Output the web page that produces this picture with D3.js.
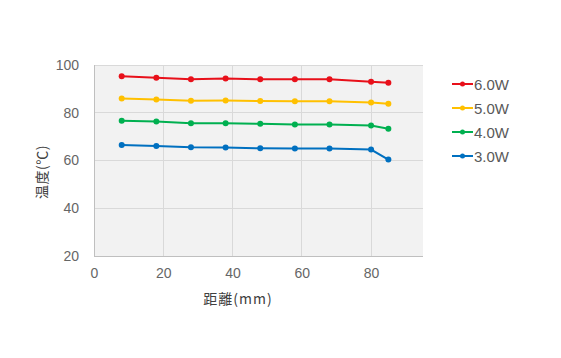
<!DOCTYPE html>
<html><head><meta charset="utf-8">
<script src="https://cdn.jsdelivr.net/npm/d3@7"></script>
<style>body{margin:0;background:#fff}</style>
</head><body>
<script>
const distances = [8, 18, 28, 38, 48, 58, 68, 80, 85];
const seriesNames = ["6.0W", "5.0W", "4.0W", "3.0W"];
const series6W = [95.3, 94.7, 94.0, 94.3, 94.0, 94.0, 94.0, 93.0, 92.6];
const series5W = [86.0, 85.6, 85.0, 85.1, 84.9, 84.8, 84.8, 84.3, 83.8];
const series4W = [76.6, 76.3, 75.6, 75.6, 75.4, 75.1, 75.1, 74.7, 73.3];
const series3W = [66.5, 66.1, 65.5, 65.4, 65.1, 65.0, 65.0, 64.6, 60.4];
const colors = ["#e8101a", "#ffc000", "#00b050", "#0070c0"];
const xTicks = [0, 20, 40, 60, 80];
const yTicks = [20, 40, 60, 80, 100];
const xTitle = "距離(mm)";
const yTitle = "温度(℃)";

const allSeries = [series6W, series5W, series4W, series3W];
const W = 561, H = 358;
const m = {left: 94, top: 65, right: 139, bottom: 102};
const pw = 423 - 94, ph = 256 - 65;
const svg = d3.select("body").append("svg").attr("width", W).attr("height", H)
  .style("font-family", "'Noto Sans CJK JP', 'Noto Sans', sans-serif");
const x = d3.scaleLinear().domain([0, 95]).range([m.left, m.left + pw]);
const y = d3.scaleLinear().domain([20, 100]).range([m.top + ph, m.top]);

svg.append("rect").attr("x", m.left).attr("y", m.top).attr("width", pw).attr("height", ph).attr("fill", "#f2f2f2");

// grid
svg.append("g").selectAll("line").data(yTicks.slice(1)).join("line")
  .attr("x1", m.left).attr("x2", m.left + pw).attr("y1", d => y(d)).attr("y2", d => y(d))
  .attr("stroke", "#d9d9d9").attr("stroke-width", 1).attr("shape-rendering", "crispEdges");
svg.append("g").selectAll("line").data(xTicks.slice(1)).join("line")
  .attr("x1", d => x(d)).attr("x2", d => x(d)).attr("y1", m.top).attr("y2", m.top + ph)
  .attr("stroke", "#d9d9d9").attr("stroke-width", 1).attr("shape-rendering", "crispEdges");

// axes
const xAxis = svg.append("g").attr("transform", `translate(0,${m.top + ph})`)
  .call(d3.axisBottom(x).tickValues(xTicks).tickSize(0).tickPadding(12));
const yAxis = svg.append("g").attr("transform", `translate(${m.left},0)`)
  .call(d3.axisLeft(y).tickValues(yTicks).tickSize(0).tickPadding(15));
[xAxis, yAxis].forEach(a => {
  a.select(".domain").attr("stroke", "#bfbfbf").attr("shape-rendering", "crispEdges");
  a.selectAll("text").attr("fill", "#666666").style("font-size", "14px")
    .style("font-family", "'Liberation Sans', Arial, sans-serif");
});
xAxis.select(".domain").attr("d", `M${m.left},0.5H${m.left + pw}`);
yAxis.select(".domain").attr("d", `M0.5,${m.top + ph}V${m.top}`);

// lines
const line = d3.line().x((d, i) => x(distances[i])).y(d => y(d));
allSeries.forEach((s, k) => {
  svg.append("path").datum(s).attr("d", line).attr("fill", "none")
    .attr("stroke", colors[k]).attr("stroke-width", 2);
  svg.append("g").selectAll("circle").data(s).join("circle")
    .attr("cx", (d, i) => x(distances[i])).attr("cy", d => y(d)).attr("r", 3)
    .attr("fill", colors[k]);
});

// titles
svg.append("text").attr("x", 238).attr("y", 304).attr("text-anchor", "middle")
  .attr("fill", "#404040").style("font-size", "14px").style("letter-spacing", "1px").text(xTitle);
svg.append("text").attr("transform", "translate(47,172) rotate(-90)").attr("text-anchor", "middle")
  .attr("fill", "#404040").style("font-size", "14px").style("letter-spacing", "0.5px").text(yTitle);

// legend
const lg = svg.append("g");
seriesNames.forEach((n, k) => {
  const ly = 84 + k * 24;
  lg.append("line").attr("x1", 452).attr("x2", 473).attr("y1", ly).attr("y2", ly)
    .attr("stroke", colors[k]).attr("stroke-width", 2);
  lg.append("circle").attr("cx", 462.5).attr("cy", ly).attr("r", 2.5).attr("fill", colors[k]);
  lg.append("text").attr("x", 474).attr("y", ly + 5.5).attr("fill", "#595959")
    .style("font-size", "15px").style("font-family", "'Liberation Sans', Arial, sans-serif").text(n);
});
</script>
</body></html>
